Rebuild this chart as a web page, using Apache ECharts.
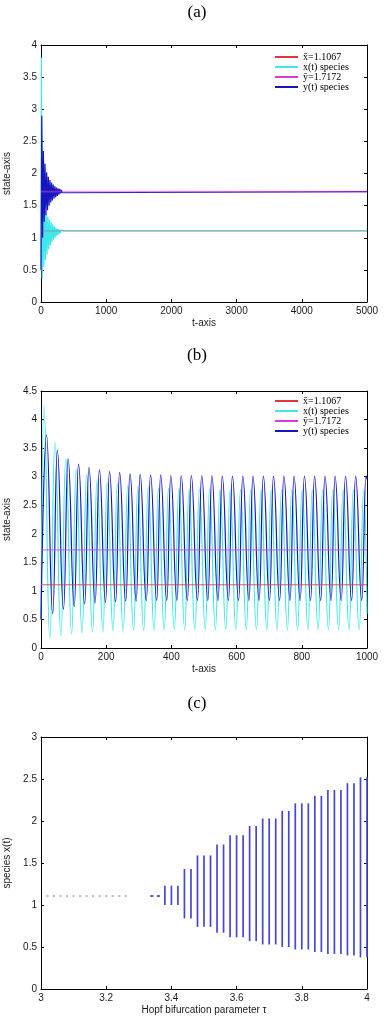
<!DOCTYPE html>
<html>
<head>
<meta charset="utf-8">
<title>Hopf bifurcation plots</title>
<script src="https://cdn.jsdelivr.net/npm/echarts/dist/echarts.min.js"></script>
<style>
  html, body, #container {
    width: 100%;
    height: 100%;
    margin: 0;
    padding: 0;
    background: #fff;
  }
</style>
</head>
<body>
<div id="container"></div>
<script>
// equilibrium values
var xBar = 1.1067;
var yBar = 1.7172;
var legendNames = ['x\u0304=1.1067', 'x(t) species', 'y\u0304=1.7172', 'y(t) species'];

// (a) tau small: damped oscillation, t in [0, 5000]
var xA_t = [0, 6, 18, 30, 43, 55, 68, 80, 93, 105, 118, 130, 143, 155, 168, 180, 193, 205, 218, 230, 243, 255, 268, 280, 293, 305, 318, 330, 345, 5000];
var xA_v = [0.5, 3.8, 0.37, 1.46, 0.55, 1.42, 0.65, 1.38, 0.74, 1.33, 0.82, 1.28, 0.88, 1.24, 0.93, 1.21, 0.97, 1.18, 1.0, 1.16, 1.03, 1.14, 1.05, 1.13, 1.07, 1.12, 1.09, 1.115, 1.1067, 1.1067];
var yA_t = [0, 12, 25, 37, 50, 62, 75, 87, 100, 112, 125, 137, 150, 162, 175, 187, 200, 212, 225, 237, 250, 262, 275, 287, 300, 312, 325, 340, 5000];
var yA_v = [0.5, 2.9, 1.0, 2.35, 1.25, 2.15, 1.35, 2.02, 1.43, 1.95, 1.5, 1.9, 1.55, 1.86, 1.58, 1.83, 1.61, 1.8, 1.63, 1.78, 1.65, 1.77, 1.67, 1.76, 1.69, 1.745, 1.7, 1.7172, 1.7172];

// (b) periodic solution, t in [0, 1000]: peaks and troughs
var xB_peakT = [9, 43, 76, 108, 140, 172, 203, 234, 266, 297, 329, 360, 391, 423, 454, 486, 517, 549, 580, 612, 643, 675, 706, 738, 769, 801, 832, 864, 895, 927, 958, 990];
var xB_peakV = [4.25, 3.6, 3.31, 3.13, 3.03, 2.95, 2.9, 2.87, 2.84, 2.82, 2.81, 2.8, 2.79, 2.79, 2.78, 2.78, 2.78, 2.77, 2.77, 2.77, 2.77, 2.77, 2.77, 2.77, 2.77, 2.77, 2.77, 2.77, 2.77, 2.77, 2.77, 2.77];
var xB_lowT = [27, 61, 94, 126, 158, 190, 221, 252, 284, 315, 347, 378, 409, 441, 472, 504, 535, 567, 598, 630, 661, 693, 724, 756, 787, 819, 850, 882, 913, 945, 976];
var xB_lowV = [0.17, 0.21, 0.25, 0.27, 0.28, 0.29, 0.3, 0.3, 0.31, 0.31, 0.31, 0.32, 0.32, 0.32, 0.32, 0.32, 0.32, 0.32, 0.32, 0.32, 0.32, 0.32, 0.32, 0.32, 0.32, 0.32, 0.32, 0.32, 0.32, 0.32, 0.32];
var yB_peakT = [17, 50, 83, 115, 147, 179, 210, 241, 273, 304, 336, 367, 398, 430, 461, 493, 524, 556, 587, 619, 650, 682, 713, 745, 776, 808, 839, 871, 902, 934, 965, 997];
var yB_peakV = [3.73, 3.46, 3.31, 3.22, 3.16, 3.12, 3.09, 3.07, 3.05, 3.04, 3.03, 3.03, 3.02, 3.02, 3.02, 3.02, 3.02, 3.01, 3.01, 3.01, 3.01, 3.01, 3.01, 3.01, 3.01, 3.01, 3.01, 3.01, 3.01, 3.01, 3.01, 3.01];
var yB_lowT = [36, 69, 102, 134, 166, 198, 229, 260, 292, 323, 355, 386, 417, 449, 480, 512, 543, 575, 606, 638, 669, 701, 732, 764, 795, 827, 858, 890, 921, 953, 984];
var yB_lowV = [0.6, 0.68, 0.73, 0.77, 0.79, 0.8, 0.81, 0.82, 0.82, 0.83, 0.83, 0.83, 0.83, 0.83, 0.83, 0.83, 0.83, 0.83, 0.83, 0.83, 0.83, 0.83, 0.83, 0.83, 0.83, 0.83, 0.83, 0.83, 0.83, 0.83, 0.83];

// (c) bifurcation diagram
var stableTau = [3.02, 3.04, 3.06, 3.08, 3.10, 3.12, 3.14, 3.16, 3.18, 3.20, 3.22, 3.24, 3.26];
var stableX = [1.1067, 1.1067, 1.1067, 1.1067, 1.1067, 1.1067, 1.1067, 1.1067, 1.1067, 1.1067, 1.1067, 1.1067, 1.1067];
var nearTau = [3.34, 3.36];
var nearX = [1.1067, 1.1067];
var barTau = [3.38, 3.40, 3.42, 3.44, 3.46, 3.48, 3.50, 3.52, 3.54, 3.56, 3.58, 3.60, 3.62, 3.64, 3.66, 3.68, 3.70, 3.72, 3.74, 3.76, 3.78, 3.80, 3.82, 3.84, 3.86, 3.88, 3.90, 3.92, 3.94, 3.96, 3.98, 4.00];
var barLow = [1.0, 1.0, 1.0, 0.84, 0.84, 0.74, 0.74, 0.74, 0.67, 0.67, 0.615, 0.615, 0.615, 0.57, 0.57, 0.53, 0.53, 0.53, 0.5, 0.5, 0.47, 0.47, 0.47, 0.44, 0.44, 0.417, 0.417, 0.417, 0.4, 0.4, 0.377, 0.377];
var barHigh = [1.23, 1.23, 1.23, 1.43, 1.43, 1.59, 1.59, 1.59, 1.72, 1.72, 1.83, 1.83, 1.83, 1.94, 1.94, 2.03, 2.03, 2.03, 2.12, 2.12, 2.21, 2.21, 2.21, 2.3, 2.3, 2.37, 2.37, 2.37, 2.45, 2.45, 2.52, 2.52];

var cRed = '#e8353a', cCyan = '#3ee8e8', cMag = '#d83ad8', cBlue = '#1616be';
var sans = 'Liberation Sans, Arial, sans-serif';
var serif = 'Liberation Serif, Times New Roman, serif';

function pairs(ts, vs) {
  var out = [];
  for (var i = 0; i < ts.length; i++) out.push([ts[i], vs[i]]);
  return out;
}
function zigzag(t0, v0, pT, pV, qT, qV, t1, v1) {
  var out = [[t0, v0]];
  for (var i = 0; i < pT.length; i++) {
    out.push([pT[i], pV[i]]);
    if (i < qT.length) out.push([qT[i], qV[i]]);
  }
  out.push([t1, v1]);
  return out;
}
function plain(v) { return String(+v.toFixed(2)); }

var grids = [
  {left: 41, top: 45, width: 326, height: 257},
  {left: 41, top: 391, width: 326, height: 257},
  {left: 41, top: 737, width: 326, height: 252}
];
grids.forEach(function (g) { g.containLabel = false; g.outerBoundsMode = 'none'; });

var xRanges = [[0, 5000, 1000, 't-axis'], [0, 1000, 200, 't-axis'], [3, 4, 0.2, 'Hopf bifurcation parameter \u03c4']];
var yRanges = [[0, 4, 0.5, 'state-axis'], [0, 4.5, 0.5, 'state-axis'], [0, 3, 0.5, 'species x(t)']];

var xAxes = [], yAxes = [];
function axisBase(gi, r, mirror, pos) {
  return {
    type: 'value', gridIndex: gi, position: pos,
    min: r[0], max: r[1], interval: r[2],
    axisLine: {show: true, onZero: false, lineStyle: {color: '#000', width: 1}},
    axisTick: {show: true, inside: true, length: 3, lineStyle: {color: '#000'}},
    axisLabel: {show: !mirror, color: '#1a1a1a', fontFamily: sans, fontSize: 10, margin: 4, formatter: plain},
    splitLine: {show: false}
  };
}
[0, 1, 2].forEach(function (i) {
  var xa = axisBase(i, xRanges[i], false, 'bottom');
  xa.name = xRanges[i][3]; xa.nameLocation = 'middle'; xa.nameGap = 16;
  xa.nameTextStyle = {color: '#1a1a1a', fontFamily: sans, fontSize: 10};
  xAxes.push(xa);
  var ya = axisBase(i, yRanges[i], false, 'left');
  ya.name = yRanges[i][3]; ya.nameLocation = 'middle'; ya.nameGap = 21;
  ya.nameTextStyle = {color: '#1a1a1a', fontFamily: sans, fontSize: 10};
  yAxes.push(ya);
});
[0, 1, 2].forEach(function (i) {
  xAxes.push(axisBase(i, xRanges[i], true, 'top'));
  yAxes.push(axisBase(i, yRanges[i], true, 'right'));
});

function lineSeries(name, axis, data, color, opts) {
  var s = {
    type: 'line', name: name, xAxisIndex: axis, yAxisIndex: axis,
    data: data, showSymbol: false, symbol: 'none', animation: false,
    lineStyle: {color: color, width: 1.2}, itemStyle: {color: color}
  };
  for (var k in opts) s[k] = opts[k];
  return s;
}

var series = [
  // (a)
  lineSeries(legendNames[1], 0, pairs(xA_t, xA_v), cCyan, {z: 2}),
  lineSeries(legendNames[3], 0, pairs(yA_t, yA_v), cBlue, {z: 3}),
  lineSeries(legendNames[0], 0, [[0, xBar], [5000, xBar]], cRed, {z: 4, lineStyle: {color: cRed, width: 1.6, opacity: 0.25}}),
  lineSeries(legendNames[2], 0, [[0, yBar], [5000, yBar]], cMag, {z: 4, lineStyle: {color: cMag, width: 1.6, opacity: 0.5}}),
  // (b)
  lineSeries(legendNames[1], 1, zigzag(0, 0.5, xB_peakT, xB_peakV, xB_lowT, xB_lowV, 1000, 0.6), cCyan, {z: 2, smooth: 0.5, smoothMonotone: 'x'}),
  lineSeries(legendNames[3], 1, zigzag(0, 0.5, yB_peakT, yB_peakV, yB_lowT, yB_lowV, 1000, 2.95), cBlue, {z: 3, smooth: 0.5, smoothMonotone: 'x'}),
  lineSeries(legendNames[0], 1, [[0, xBar], [1000, xBar]], cRed, {z: 4, lineStyle: {color: cRed, width: 1, opacity: 0.85}}),
  lineSeries(legendNames[2], 1, [[0, yBar], [1000, yBar]], cMag, {z: 4, lineStyle: {color: cMag, width: 1, opacity: 0.85}}),
  // (c)
  {
    type: 'scatter', xAxisIndex: 2, yAxisIndex: 2, animation: false,
    symbol: 'rect', symbolSize: [2, 2], itemStyle: {color: '#a4a4cc'},
    data: pairs(stableTau, stableX)
  },
  {
    type: 'scatter', xAxisIndex: 2, yAxisIndex: 2, animation: false,
    symbol: 'rect', symbolSize: [3, 2], itemStyle: {color: '#2a2ab8'},
    data: pairs(nearTau, nearX)
  },
  {
    type: 'custom', xAxisIndex: 2, yAxisIndex: 2, animation: false,
    encode: {x: 0, y: [1, 2]},
    data: barTau.map(function (t, i) { return [t, barLow[i], barHigh[i]]; }),
    renderItem: function (params, api) {
      var p1 = api.coord([api.value(0), api.value(1)]);
      var p2 = api.coord([api.value(0), api.value(2)]);
      return {
        type: 'line',
        shape: {x1: p1[0], y1: p1[1], x2: p2[0], y2: p2[1]},
        style: {stroke: '#4646d2', lineWidth: 1.7}
      };
    }
  }
];

function legendAt(top, rowH) {
  return {
    top: top, left: 275, orient: 'vertical', padding: 0,
    itemWidth: 23, itemHeight: 2, itemGap: 0, icon: 'rect',
    selectedMode: false,
    data: legendNames,
    textStyle: {fontFamily: serif, fontSize: 10, color: '#000', lineHeight: rowH, height: rowH}
  };
}

var titles = [['(a)', 4], ['(b)', 347], ['(c)', 695]].map(function (t) {
  return {
    text: t[0], left: 197, top: t[1], textAlign: 'center', padding: 0,
    textStyle: {fontFamily: serif, fontSize: 17, fontWeight: 'normal', color: '#000'}
  };
});

var chart = echarts.init(document.getElementById('container'));
chart.setOption({
  backgroundColor: '#fff',
  animation: false,
  title: titles,
  legend: [legendAt(52, 9.8), legendAt(396, 8.3)],
  grid: grids,
  xAxis: xAxes,
  yAxis: yAxes,
  series: series
});
</script>
</body>
</html>
